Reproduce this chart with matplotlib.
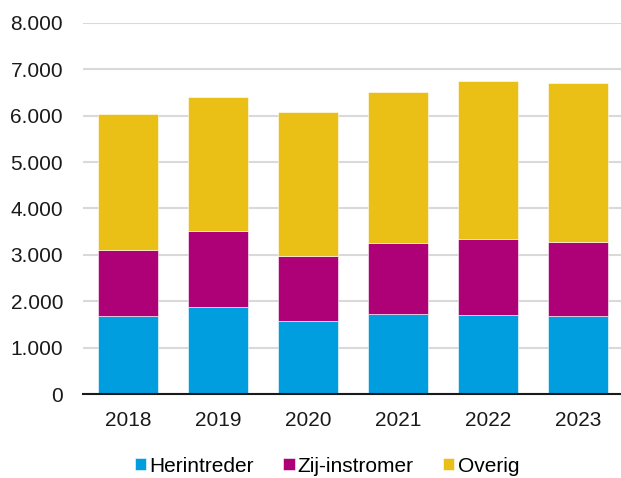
import matplotlib
matplotlib.use("Agg")
import matplotlib.pyplot as plt
from matplotlib.ticker import FuncFormatter
import numpy as np

plt.rcParams['font.family'] = ['Liberation Sans', 'DejaVu Sans']

years = ["2018", "2019", "2020", "2021", "2022", "2023"]
herintreder = [1680, 1870, 1570, 1720, 1700, 1680]
zij_instromer = [1420, 1645, 1400, 1545, 1635, 1605]
overig = [2940, 2900, 3115, 3245, 3420, 3425]

series = [("Herintreder", herintreder, "#009ddf"),
          ("Zij-instromer", zij_instromer, "#ae0077"),
          ("Overig", overig, "#ebc016")]

fig = plt.figure(figsize=(6.21, 4.78), dpi=100)
ax = fig.add_axes([83/621, 84/478, 540/621, 371/478])

x = np.arange(len(years))
bottom = np.zeros(len(years))
handles = []
for name, vals, col in series:
    b = ax.bar(x, vals, width=0.667, bottom=bottom, color=col, label=name,
               edgecolor="white", linewidth=0.4, zorder=3)
    handles.append(b)
    bottom += np.array(vals)

ax.set_xlim(-0.5, len(years) - 0.5)
ax.set_ylim(0, 8000)
ax.set_yticks(range(0, 8001, 1000))
ax.yaxis.set_major_formatter(FuncFormatter(lambda v, p: f"{int(v):,}".replace(",", ".")))
ax.set_xticks(x)
ax.set_xticklabels(years)
ax.grid(axis="y", color="#d9d9d9", linewidth=1.5, zorder=0)
for s in ["top", "right", "left"]:
    ax.spines[s].set_visible(False)
ax.spines["bottom"].set_color("#1a1a1a")
ax.spines["bottom"].set_linewidth(1.5)
ax.spines["bottom"].set_zorder(4)
ax.tick_params(axis="both", length=0, labelsize=15, colors="#1a1a1a")
ax.tick_params(axis="x", pad=12)
ax.tick_params(axis="y", pad=14.4)

fig.legend(handles=handles, labels=[h.get_label() for h in handles],
           loc="center", bbox_to_anchor=(327/621, 1 - 466/478), ncol=3,
           frameon=False, fontsize=15, handlelength=0.55, handleheight=0.55,
           handletextpad=0.15, columnspacing=1.4)

fig.savefig("out.png", dpi=100)
